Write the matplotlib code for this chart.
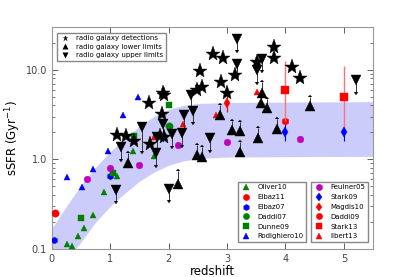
import numpy as np
import matplotlib
matplotlib.use("Agg")
import matplotlib.pyplot as plt
from matplotlib.lines import Line2D

# ---- band (main sequence envelope) ----
band_z = [0, 0.25, 0.5, 0.75, 1.0, 1.25, 1.5, 1.75, 2.0, 2.25, 2.5, 3.0, 4.0, 5.5]
band_hi = [0.17, 0.30, 0.52, 0.82, 1.22, 1.7, 2.35, 3.0, 3.6, 4.0, 4.2, 4.3, 4.35, 4.4]
band_lo = [0.045, 0.075, 0.12, 0.2, 0.3, 0.42, 0.57, 0.72, 0.86, 0.96, 1.02, 1.06, 1.07, 1.08]

# ---- radio galaxies ----
det_z = [2.53, 1.90, 1.92, 1.66, 1.88, 2.48, 2.57, 2.76, 2.93, 2.89, 3.00, 3.13, 3.51,
         3.80, 3.80, 4.11, 4.25, 1.11, 1.27, 1.40, 1.68, 1.85, 1.92]
det_s = [9.6, 5.5, 5.2, 4.2, 3.2, 5.9, 6.4, 14.9, 13.4, 7.2, 5.5, 8.7, 12.1,
         17.8, 13.4, 10.7, 8.0, 1.85, 1.81, 1.59, 1.47, 1.81, 1.76]

up_z = [3.17, 3.17, 3.51, 3.60, 5.21, 2.38, 2.41, 2.26, 1.90, 1.54, 2.05, 2.22, 2.71,
        1.80, 1.78, 1.18, 1.10, 2.00]
up_s = [21.9, 11.5, 9.9, 13.1, 7.6, 5.2, 3.5, 3.1, 2.5, 2.3, 1.9, 1.95, 1.72,
        1.76, 1.17, 1.36, 0.45, 0.47]
up_len = [0.12, 0.13, 0.13, 0.12, 0.13, 0.12, 0.13, 0.16, 0.13, 0.27, 0.13, 0.13, 0.13,
          0.14, 0.13, 0.13, 0.12, 0.12]

lo_z = [3.60, 3.58, 3.68, 4.42, 2.88, 3.08, 3.22, 3.53, 3.85, 3.22, 2.57, 2.48, 2.16, 1.30]
lo_s = [5.5, 4.3, 3.7, 3.9, 3.1, 2.1, 2.05, 1.72, 2.2, 1.2, 1.05, 1.11, 0.53, 0.90]
lo_len = [0.12, 0.1, 0.1, 0.1, 0.12, 0.11, 0.11, 0.11, 0.11, 0.11, 0.12, 0.12, 0.15, 0.12]

# ---- literature ----
oliver_z = [1.39, 1.75, 1.11, 0.89, 0.70, 0.55, 0.45, 0.26, 0.34]
oliver_s = [1.23, 1.08, 0.66, 0.43, 0.24, 0.17, 0.14, 0.115, 0.107]
elbaz11_z = [0.05]
elbaz11_s = [0.25]
elbaz07_z = [0.03, 1.0]
elbaz07_s = [0.125, 0.66]
daddi07_z = [2.0]
daddi07_s = [2.34]
dunne_z = [2.0, 1.40, 1.05, 0.5]
dunne_s = [4.0, 1.8, 0.70, 0.22]
rodi_z = [1.47, 1.22, 0.96, 0.70, 0.26, 0.51]
rodi_s = [4.9, 3.1, 1.23, 0.79, 0.63, 0.49]
feul_z = [0.60, 1.0, 1.49, 2.16, 3.0, 4.25]
feul_s = [0.60, 0.81, 0.86, 1.43, 1.55, 1.67]
stark09_z = [4.0, 5.0]
stark09_s = [2.0, 2.0]
magdis_z = [3.0]
magdis_s = [4.2]
daddi09_z = [4.0]
daddi09_s = [2.66]
stark13_z = [4.0, 5.0]
stark13_s = [6.0, 4.9]
stark13_lo = [2.66, 1.95]
stark13_hi = [12.6, 11.0]
ilbert_z = [3.51, 2.81, 2.24, 1.75]
ilbert_s = [5.6, 3.1, 2.45, 1.76]

fig = plt.figure(figsize=(4.15, 2.77), dpi=100)
ax = fig.add_axes([0.125, 0.101, 0.774, 0.802])
ax.set_yscale('log')

ax.fill_between(band_z, band_lo, band_hi, color=(0.8, 0.8, 0.98), lw=0, zorder=0)

ms_lit = 4.8
mew = 0.3
ax.plot(oliver_z, oliver_s, '^', color='g', ms=ms_lit, mew=mew, zorder=3)
ax.plot(elbaz11_z, elbaz11_s, 'o', color='r', ms=ms_lit + 0.5, mew=mew, zorder=3)
ax.plot(elbaz07_z, elbaz07_s, 'h', color='b', ms=ms_lit, mew=mew, zorder=3)
ax.plot(daddi07_z, daddi07_s, 'o', color='g', ms=ms_lit + 0.5, mew=mew, zorder=3)
ax.plot(dunne_z, dunne_s, 's', color='g', ms=ms_lit, mew=mew, zorder=3)
ax.plot(rodi_z, rodi_s, '^', color='b', ms=ms_lit, mew=mew, zorder=3)
ax.plot(feul_z, feul_s, 'o', color='m', ms=ms_lit, mew=mew, zorder=3)
ax.errorbar(stark09_z, stark09_s, yerr=[[0.2 * v for v in stark09_s], [0.25 * v for v in stark09_s]],
            fmt='d', color='b', ms=ms_lit, mew=mew, elinewidth=0.8, zorder=3)
ax.errorbar(magdis_z, magdis_s, yerr=[[0.2 * v for v in magdis_s], [0.25 * v for v in magdis_s]],
            fmt='d', color='r', ms=ms_lit, mew=mew, elinewidth=0.8, zorder=3)
ax.plot(daddi09_z, daddi09_s, 'h', color='r', ms=ms_lit + 0.5, mew=mew, zorder=3)
ax.errorbar(stark13_z, stark13_s,
            yerr=[[s - l for s, l in zip(stark13_s, stark13_lo)],
                  [h - s for s, h in zip(stark13_s, stark13_hi)]],
            fmt='s', color='r', ecolor=(1, 0.45, 0.45), ms=ms_lit + 1.2, mew=mew,
            elinewidth=1.0, zorder=3)
ax.plot(ilbert_z, ilbert_s, '^', color='r', ms=ms_lit, mew=mew, zorder=3)

# radio galaxies
up_err = [s * (1 - 10 ** (-d)) for s, d in zip(up_s, up_len)]
lo_err = [s * (10 ** d - 1) for s, d in zip(lo_s, lo_len)]
ax.errorbar(up_z, up_s, yerr=up_err, uplims=True, fmt='v', color='k', ms=6.5,
            mew=0.3, elinewidth=0.7, capsize=1.2, ecolor='#333333', zorder=4)
ax.errorbar(lo_z, lo_s, yerr=lo_err, lolims=True, fmt='^', color='k', ms=6.5,
            mew=0.3, elinewidth=0.7, capsize=1.2, ecolor='#333333', zorder=4)
ax.plot(det_z, det_s, '*', color='k', ms=11, mew=0.3, zorder=5)

ax.set_xlim(0, 5.5)
ax.set_ylim(0.1, 30)
ax.set_xticks([0, 1, 2, 3, 4, 5])
ax.set_xticklabels(['0', '1', '2', '3', '4', '5'])
ax.set_yticks([0.1, 1.0, 10.0])
ax.set_yticklabels(['0.1', '1.0', '10.0'])
ax.tick_params(which='both', direction='in', labelsize=7, colors='#444444',
               top=True, right=True)
ax.tick_params(which='major', length=4, width=0.6)
ax.tick_params(which='minor', length=2, width=0.5)
for sp in ax.spines.values():
    sp.set_color('#999999')
    sp.set_linewidth(0.8)
ax.set_xlabel('redshift', fontsize=8.5, labelpad=1)
ax.set_ylabel('sSFR (Gyr$^{-1}$)', fontsize=8.5, labelpad=2)

# legends
h1 = [Line2D([], [], ls='none', marker='*', color='k', ms=5, mec='none'),
      Line2D([], [], ls='none', marker='^', color='k', ms=5, mec='none'),
      Line2D([], [], ls='none', marker='v', color='k', ms=5, mec='none')]
l1 = ax.legend(h1, ['radio galaxy detections', 'radio galaxy lower limits',
                    'radio galaxy upper limits'],
               loc='upper left', bbox_to_anchor=(0.005, 0.99), fontsize=5,
               numpoints=1, fancybox=False, framealpha=1, edgecolor='#888888',
               borderpad=0.4, labelspacing=0.35, handletextpad=0.8, handlelength=1.5)
ax.add_artist(l1)

def mk(m, c):
    return Line2D([], [], ls='none', marker=m, color=c, ms=4.5, mew=0.3)

h2 = [mk('^', 'g'), mk('o', 'r'), mk('h', 'b'), mk('o', 'g'), mk('s', 'g'), mk('^', 'b')]
n2 = ['Oliver10', 'Elbaz11', 'Elbaz07', 'Daddi07', 'Dunne09', 'Rodighiero10']
l2 = ax.legend(h2, n2, loc='lower left', bbox_to_anchor=(0.568, 0.015), fontsize=5,
               numpoints=1, fancybox=False, framealpha=1, edgecolor='#888888',
               borderpad=0.4, labelspacing=0.55, handletextpad=0.9, handlelength=1.5)
ax.add_artist(l2)
h3 = [mk('o', 'm'), mk('d', 'b'), mk('d', 'r'), mk('o', 'r'), mk('s', 'r'), mk('^', 'r')]
n3 = ['Feulner05', 'Stark09', 'Magdis10', 'Daddi09', 'Stark13', 'Ilbert13']
ax.legend(h3, n3, loc='lower right', bbox_to_anchor=(0.995, 0.015), fontsize=5,
          numpoints=1, fancybox=False, framealpha=1, edgecolor='#888888',
          borderpad=0.4, labelspacing=0.55, handletextpad=0.9, handlelength=1.5)

fig.savefig('out.png', dpi=100)
